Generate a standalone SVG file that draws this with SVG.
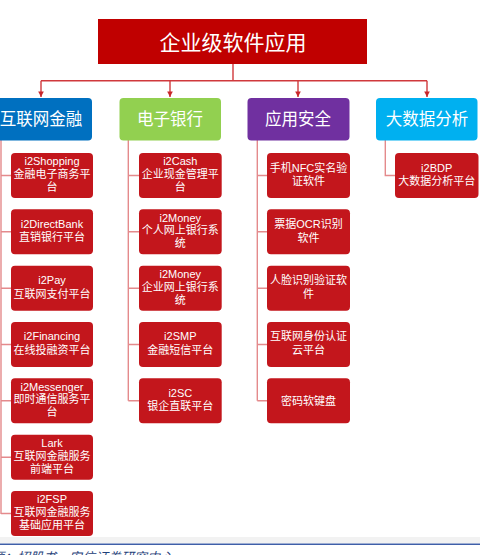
<svg xmlns="http://www.w3.org/2000/svg" width="480" height="555" viewBox="0 0 480 555">
<style>
text{font-family:"Liberation Sans","Noto Sans CJK SC",sans-serif;fill:#fff;text-anchor:middle}
.t{font-size:21px}
.c{font-size:16.5px}
.s{font-size:11px}
.child{fill:#C3161C}
.top{stroke:#D0393C;stroke-width:1.4;fill:none}
.sub{stroke:#E48A8C;stroke-width:1.4;fill:none}
.src{font-size:13px;font-style:italic;fill:#1F3F7A;text-anchor:start}
</style>
<defs>
<marker id="ah" viewBox="0 0 10 10" refX="10" refY="5" markerWidth="4" markerHeight="4" orient="auto"><path d="M0,0L10,5L0,10z" fill="#C8262A"/></marker>
</defs>
<rect width="480" height="555" fill="#fff"/>
<g id="connectors">
<path class="top" d="M233,64V80.7M41,80.7H427"/>
<path class="top" d="M41,80.7V97" marker-end="url(#ah)"/>
<path class="top" d="M170,80.7V97" marker-end="url(#ah)"/>
<path class="top" d="M298,80.7V97" marker-end="url(#ah)"/>
<path class="top" d="M427,80.7V97" marker-end="url(#ah)"/>
<path class="sub" d="M1,140V514M1,175.5H11M1,231.8H11M1,288.2H11M1,344.5H11M1,400.8H11M1,457.2H11M1,513.5H11"/>
<path class="sub" d="M128.3,140V400.8M128.3,175.5H139M128.3,231.8H139M128.3,288.2H139M128.3,344.5H139M128.3,400.8H139"/>
<path class="sub" d="M257.3,140V400.8M257.3,175.5H267M257.3,231.8H267M257.3,288.2H267M257.3,344.5H267M257.3,400.8H267"/>
<path class="sub" d="M385.3,140V175.5H395"/>
</g>
<g id="root"><rect x="98" y="19" width="269" height="45" fill="#C00000"/><text class="t" x="233" y="49.5">企业级软件应用</text></g>
<g id="cat1"><rect x="-10" y="98" width="102" height="42.5" rx="4" fill="#0070C0"/><text class="c" x="41" y="125">互联网金融</text></g>
<g id="cat2"><rect x="119.5" y="98" width="101.5" height="42.5" rx="4" fill="#92D050"/><text class="c" x="170" y="125">电子银行</text></g>
<g id="cat3"><rect x="247.5" y="98" width="102" height="42.5" rx="4" fill="#7030A0"/><text class="c" x="298" y="125">应用安全</text></g>
<g id="cat4"><rect x="376" y="98" width="101.5" height="42.5" rx="4" fill="#00B0F0"/><text class="c" x="427" y="125">大数据分析</text></g>

<g id="n1_1"><rect class="child" x="11" y="153" width="82" height="45" rx="4"/><text class="s" x="52" y="165">i2Shopping</text><text class="s" x="52" y="177.5">金融电子商务平</text><text class="s" x="52" y="190.5">台</text></g>
<g id="n1_2"><rect class="child" x="11" y="209.3" width="82" height="45" rx="4"/><text class="s" x="52" y="227.5">i2DirectBank</text><text class="s" x="52" y="241">直销银行平台</text></g>
<g id="n1_3"><rect class="child" x="11" y="265.7" width="82" height="45" rx="4"/><text class="s" x="52" y="284">i2Pay</text><text class="s" x="52" y="297.5">互联网支付平台</text></g>
<g id="n1_4"><rect class="child" x="11" y="322" width="82" height="45" rx="4"/><text class="s" x="52" y="340">i2Financing</text><text class="s" x="52" y="353.5">在线投融资平台</text></g>
<g id="n1_5"><rect class="child" x="11" y="378.3" width="82" height="45" rx="4"/><text class="s" x="52" y="390.5">i2Messenger</text><text class="s" x="52" y="403">即时通信服务平</text><text class="s" x="52" y="416">台</text></g>
<g id="n1_6"><rect class="child" x="11" y="434.7" width="82" height="45" rx="4"/><text class="s" x="52" y="446.5">Lark</text><text class="s" x="52" y="459.5">互联网金融服务</text><text class="s" x="52" y="472.5">前端平台</text></g>
<g id="n1_7"><rect class="child" x="11" y="491" width="82" height="45" rx="4"/><text class="s" x="52" y="503">i2FSP</text><text class="s" x="52" y="516">互联网金融服务</text><text class="s" x="52" y="529">基础应用平台</text></g>

<g id="n2_1"><rect class="child" x="139" y="153" width="82.7" height="45" rx="4"/><text class="s" x="180.3" y="165">i2Cash</text><text class="s" x="180.3" y="177.5">企业现金管理平</text><text class="s" x="180.3" y="190.5">台</text></g>
<g id="n2_2"><rect class="child" x="139" y="209.3" width="82.7" height="45" rx="4"/><text class="s" x="180.3" y="221.5">i2Money</text><text class="s" x="180.3" y="234">个人网上银行系</text><text class="s" x="180.3" y="247">统</text></g>
<g id="n2_3"><rect class="child" x="139" y="265.7" width="82.7" height="45" rx="4"/><text class="s" x="180.3" y="277.5">i2Money</text><text class="s" x="180.3" y="290.5">企业网上银行系</text><text class="s" x="180.3" y="303.5">统</text></g>
<g id="n2_4"><rect class="child" x="139" y="322" width="82.7" height="45" rx="4"/><text class="s" x="180.3" y="340">i2SMP</text><text class="s" x="180.3" y="353.5">金融短信平台</text></g>
<g id="n2_5"><rect class="child" x="139" y="378.3" width="82.7" height="45" rx="4"/><text class="s" x="180.3" y="396.5">i2SC</text><text class="s" x="180.3" y="410">银企直联平台</text></g>

<g id="n3_1"><rect class="child" x="267" y="153" width="83" height="45" rx="4"/><text class="s" x="308.5" y="171.5">手机NFC实名验</text><text class="s" x="308.5" y="185">证软件</text></g>
<g id="n3_2"><rect class="child" x="267" y="209.3" width="83" height="45" rx="4"/><text class="s" x="308.5" y="228">票据OCR识别</text><text class="s" x="308.5" y="241.5">软件</text></g>
<g id="n3_3"><rect class="child" x="267" y="265.7" width="83" height="45" rx="4"/><text class="s" x="308.5" y="284">人脸识别验证软</text><text class="s" x="308.5" y="297.5">件</text></g>
<g id="n3_4"><rect class="child" x="267" y="322" width="83" height="45" rx="4"/><text class="s" x="308.5" y="340">互联网身份认证</text><text class="s" x="308.5" y="353.5">云平台</text></g>
<g id="n3_5"><rect class="child" x="267" y="378.3" width="83" height="45" rx="4"/><text class="s" x="308.5" y="404.5">密码软键盘</text></g>

<g id="n4_1"><rect class="child" x="395" y="153" width="83.5" height="45" rx="4"/><text class="s" x="436.7" y="171.5">i2BDP</text><text class="s" x="436.7" y="185">大数据分析平台</text></g>

<rect x="0" y="537" width="480" height="6" fill="#F2F2F2"/>
<line x1="0" y1="544.3" x2="480" y2="544.3" stroke="#3F5FA8" stroke-width="1.6"/>
<text class="src" x="-48" y="562">资料来源：招股书、安信证券研究中心</text>
</svg>
